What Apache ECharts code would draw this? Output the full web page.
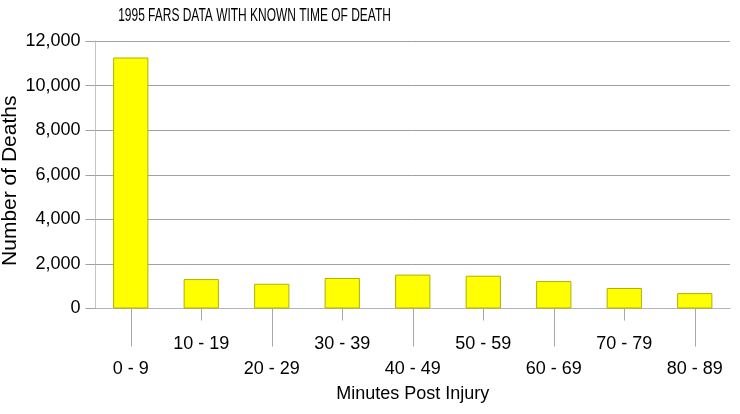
<!DOCTYPE html>
<html>
<head>
<meta charset="utf-8">
<script src="https://cdn.jsdelivr.net/npm/echarts@6/dist/echarts.min.js"></script>
<style>html,body{margin:0;padding:0;background:#fff}#c{width:740px;height:414px}</style>
</head>
<body>
<div id="c"></div>
<script>
const categories = ['0 - 9','10 - 19','20 - 29','30 - 39','40 - 49','50 - 59','60 - 69','70 - 79','80 - 89'];
const deaths = [11260, 1320, 1110, 1370, 1520, 1470, 1230, 920, 690];
const titleText = '1995 FARS DATA WITH KNOWN TIME OF DEATH';
const xName = 'Minutes Post Injury';
const yName = 'Number of Deaths';

const FONT = '"Liberation Sans", Arial, sans-serif';
const chart = echarts.init(document.getElementById('c'), null, {renderer: 'canvas'});
const even = (i) => i % 2 === 0;
const odd = (i) => i % 2 === 1;
chart.setOption({
  animation: false,
  backgroundColor: '#ffffff',
  graphic: [{
    type: 'text', x: 254.5, y: 16, scaleX: 0.665,
    style: {text: titleText, font: '18px ' + FONT, fill: '#000', align: 'center', verticalAlign: 'middle'}
  }],
  grid: {left: 95.5, right: 10, top: 41, bottom: 105.5, outerBoundsMode: 'none', containLabel: false},
  xAxis: [{
    type: 'category', data: categories, position: 'bottom',
    axisLine: {show: true, lineStyle: {color: '#b4b4b4', width: 1}},
    axisTick: {show: true, alignWithLabel: true, length: 38, interval: even, lineStyle: {color: '#a8a8a8'}},
    axisLabel: {interval: even, margin: 52, fontSize: 18, color: '#000', fontFamily: FONT},
    name: xName, nameLocation: 'middle', nameGap: 77, nameMoveOverlap: false,
    nameTextStyle: {fontSize: 18, color: '#000', fontFamily: FONT}
  }, {
    type: 'category', data: categories, position: 'bottom',
    axisLine: {show: false},
    axisTick: {show: true, alignWithLabel: true, length: 12, interval: odd, lineStyle: {color: '#a8a8a8'}},
    axisLabel: {interval: odd, margin: 27, fontSize: 18, color: '#000', fontFamily: FONT}
  }],
  yAxis: {
    type: 'value', min: 0, max: 12000, interval: 2000,
    axisLine: {show: true, lineStyle: {color: '#c4c4c4'}},
    axisTick: {show: true, length: 10, lineStyle: {color: '#a0a0a0'}},
    splitLine: {show: true, lineStyle: {color: '#a0a0a0', width: 1}},
    axisLabel: {margin: 15, fontSize: 18, color: '#000', fontFamily: FONT,
      formatter: (v) => v.toLocaleString('en-US')},
    name: yName, nameLocation: 'middle', nameGap: 75, nameRotate: 90, nameMoveOverlap: false,
    nameTextStyle: {fontSize: 21, color: '#000', fontFamily: FONT, padding: [0, 12, 0, 0]}
  },
  series: [{
    type: 'bar', data: deaths, xAxisIndex: 0, barWidth: '50%',
    itemStyle: {color: '#ffff00', borderColor: '#b0b000', borderWidth: 1}
  }]
});
</script>
</body>
</html>
